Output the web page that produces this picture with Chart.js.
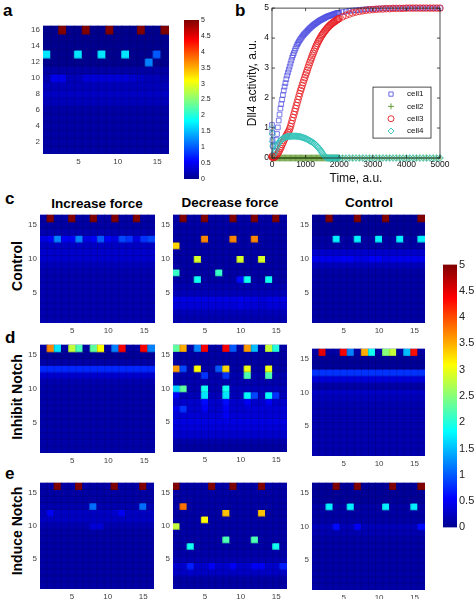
<!DOCTYPE html>
<html>
<head>
<meta charset="utf-8">
<script src="https://cdn.jsdelivr.net/npm/chart.js@4.4.1/dist/chart.umd.min.js"></script>
<style>
  body { margin: 0; background: #fff; width: 476px; height: 599px; position: relative; overflow: hidden;
         font-family: "Liberation Sans", Arial, sans-serif; }
  canvas { position: absolute; }
  .txt { position: absolute; font-weight: bold; color: #000; white-space: nowrap; line-height: 1; }
  .letter { font-size: 17px; }
  .coltitle { font-size: 13.5px; transform: translate(-50%, -50%); }
  .rowtitle { font-size: 14px; transform: translate(-50%, -50%) rotate(-90deg); }
</style>
</head>
<body>

<div class="txt letter" style="left:3px;top:2px">a</div>
<div class="txt letter" style="left:235px;top:2px">b</div>
<div class="txt letter" style="left:5px;top:190px">c</div>
<div class="txt letter" style="left:5px;top:329px">d</div>
<div class="txt letter" style="left:5px;top:465px">e</div>

<div class="txt coltitle" style="left:97px;top:204px">Increase force</div>
<div class="txt coltitle" style="left:230px;top:203px">Decrease force</div>
<div class="txt coltitle" style="left:369px;top:203px">Control</div>

<div class="txt rowtitle" style="left:17px;top:266px">Control</div>
<div class="txt rowtitle" style="left:17px;top:397px">Inhibit Notch</div>
<div class="txt rowtitle" style="left:17px;top:531px">Induce Notch</div>

<script>
/* ─── Data ───────────────────────────────────────────────────────────────── */
const colLabels = ['1','2','3','4','5','6','7','8','9','10','11','12','13','14','15','16'];
const xTicksShown = ['5', '10', '15'];
const yTicksA  = [2, 4, 6, 8, 10, 12, 14, 16];
const yTicksCE = [5, 10, 15];
const cbarTicks = [0, 0.5, 1, 1.5, 2, 2.5, 3, 3.5, 4, 4.5, 5];
const CMAX = 5;

// heatmaps: rows listed from the top (row 16) down to row 1
const heatA = [
  [0,0,5,0,0,5,0,0,5,0,0,0,5,0,0,5],
  [0,0,0,0,0,0,0,0,0,0,0,0,0,0,0,0],
  [0,0,0,0,0,0,0,0,0,0,0,0,0,0,0,0],
  [1.7,0,0,0,1.7,0,0,1.7,0,0,1.7,0,0,0,1.0,0],
  [0,0,0,0,0,0,0,0,0,0,0,0,0,1.2,0,0],
  [.1,.1,.1,.1,.1,.1,.1,.1,.1,.1,.1,.1,.1,.1,.1,.1],
  [.15,.45,.45,.2,.2,.35,.35,.35,.35,.35,.35,.3,.25,.2,.2,.15],
  [.2,.2,.2,.2,.2,.2,.2,.2,.2,.2,.2,.2,.2,.2,.2,.2],
  [.25,.25,.25,.25,.25,.25,.25,.25,.25,.25,.25,.25,.25,.25,.25,.25],
  [.2,.2,.2,.2,.2,.2,.2,.2,.2,.2,.2,.2,.2,.2,.2,.2],
  [.1,.1,.1,.1,.1,.1,.1,.1,.1,.1,.1,.1,.1,.1,.1,.1],
  [.1,.1,.1,.1,.1,.1,.1,.1,.1,.1,.1,.1,.1,.1,.1,.1],
  [.1,.1,.1,.1,.1,.1,.1,.1,.1,.1,.1,.1,.1,.1,.1,.1],
  [.1,.1,.1,.1,.1,.1,.1,.1,.1,.1,.1,.1,.1,.1,.1,.1],
  [.1,.1,.1,.1,.1,.1,.1,.1,.1,.1,.1,.1,.1,.1,.1,.1],
  [.1,.1,.1,.1,.1,.1,.1,.1,.1,.1,.1,.1,.1,.1,.1,.1],
];

const heatC1 = [
  [.1,5,.1,.1,5,.1,.1,5,.1,.1,5,.1,.1,5,.1,.1],
  [.1,.1,.1,.1,.1,.1,.1,.1,.1,.1,.1,.1,.1,.1,.1,.1],
  [.15,.15,.15,.15,.15,.15,.15,.15,.15,.15,.15,.15,.15,.15,.15,.15],
  [.4,.5,1.2,.5,.5,1.2,.4,.5,1.0,.5,.4,.9,.8,.4,.8,.9],
  [.25,.25,.25,.25,.25,.25,.25,.25,.25,.25,.25,.25,.25,.25,.25,.25],
  [.3,.3,.3,.3,.3,.3,.3,.3,.3,.3,.3,.3,.3,.3,.3,.3],
  [.3,.3,.3,.3,.3,.3,.3,.3,.3,.3,.3,.3,.3,.3,.3,.3],
  [.2,.2,.2,.2,.2,.2,.2,.2,.2,.2,.2,.2,.2,.2,.2,.2],
  [.15,.15,.15,.15,.15,.15,.15,.15,.15,.15,.15,.15,.15,.15,.15,.15],
  [.15,.15,.15,.15,.15,.15,.15,.15,.15,.15,.15,.15,.15,.15,.15,.15],
  [.15,.15,.15,.15,.15,.15,.15,.15,.15,.15,.15,.15,.15,.15,.15,.15],
  [.15,.15,.15,.15,.15,.15,.15,.15,.15,.15,.15,.15,.15,.15,.15,.15],
  [.15,.15,.15,.15,.15,.15,.15,.15,.15,.15,.15,.15,.15,.15,.15,.15],
  [.15,.15,.15,.15,.15,.15,.15,.15,.15,.15,.15,.15,.15,.15,.15,.15],
  [.15,.15,.15,.15,.15,.15,.15,.15,.15,.15,.15,.15,.15,.15,.15,.15],
  [.15,.15,.15,.15,.15,.15,.15,.15,.15,.15,.15,.15,.15,.15,.15,.15],
];

const heatC2 = [
  [.1,5,.1,.1,5,.1,.1,.1,5,.1,.1,5,.1,.1,5,.1],
  [.1,.1,.1,.1,.1,.1,.1,.1,.1,.1,.1,.1,.1,.1,.1,.1],
  [.1,.1,.1,.1,.1,.1,.1,.1,.1,.1,.1,.1,.1,.1,.1,.1],
  [.1,.1,.1,.1,3.7,.1,.1,.1,3.7,.1,.1,3.7,.1,.1,.1,.1],
  [3.3,.1,.1,.1,.1,.1,.1,.1,.1,.1,.1,.1,.1,.1,.1,.1],
  [.1,.1,.1,.1,.1,.1,.1,.1,.1,.1,.1,.1,.1,.1,.1,.1],
  [.1,.1,.1,2.9,.1,.1,.1,.1,.1,2.9,.1,.1,2.9,.1,.1,.1],
  [.1,.1,.1,.1,.1,.1,.1,.1,.1,.1,.1,.1,.1,.1,.1,.1],
  [2.1,.1,.1,.1,.1,.1,2.1,.1,.1,.1,.1,.1,.1,.1,.1,.1],
  [.1,.1,.1,1.9,.1,.1,.1,.1,.1,.6,1.9,.1,.1,1.9,.1,.1],
  [.15,.15,.15,.15,.15,.15,.15,.15,.15,.15,.15,.15,.15,.15,.15,.15],
  [.2,.2,.2,.2,.2,.2,.2,.2,.2,.2,.2,.2,.2,.2,.2,.2],
  [.4,.4,.4,.4,.4,.4,.4,.4,.4,.45,.4,.4,.35,.4,.4,.4],
  [.35,.35,.35,.35,.35,.35,.35,.35,.35,.4,.35,.35,.3,.35,.35,.35],
  [.2,.2,.2,.2,.2,.2,.2,.2,.2,.2,.2,.2,.2,.2,.2,.2],
  [.15,.15,.15,.15,.15,.15,.15,.15,.15,.15,.15,.15,.15,.15,.15,.15],
];

const heatC3 = [
  [.05,.05,5,.05,.05,.05,5,.05,.05,.05,5,.05,.05,.05,.05,5],
  [.05,.05,.05,.05,.05,.05,.05,.05,.05,.05,.05,.05,.05,.05,.05,.05],
  [.05,.05,.05,.05,.05,.05,.05,.05,.05,.05,.05,.05,.05,.05,.05,.05],
  [.1,.1,.1,1.75,.1,.1,1.75,.1,.1,1.75,.1,.1,1.75,.1,.1,1.75],
  [.1,.1,.1,.1,.1,.1,.1,.1,.1,.1,.1,.1,.1,.1,.1,.1],
  [.3,.3,.3,.3,.3,.3,.3,.3,.3,.3,.3,.3,.3,.3,.3,.3],
  [.45,.45,.45,.45,.5,.5,.4,.4,.5,.5,.4,.45,.45,.45,.45,.45],
  [.2,.2,.2,.2,.2,.2,.2,.2,.2,.2,.2,.2,.2,.2,.2,.2],
  [.1,.1,.1,.1,.1,.1,.1,.1,.1,.1,.1,.1,.1,.1,.1,.1],
  [.1,.1,.1,.1,.1,.1,.1,.1,.1,.1,.1,.1,.1,.1,.1,.1],
  [.1,.1,.1,.1,.1,.1,.1,.1,.1,.1,.1,.1,.1,.1,.1,.1],
  [.1,.1,.1,.1,.1,.1,.1,.1,.1,.1,.1,.1,.1,.1,.1,.1],
  [.1,.1,.1,.1,.1,.1,.1,.1,.1,.1,.1,.1,.1,.1,.1,.1],
  [.1,.1,.1,.1,.1,.1,.1,.1,.1,.1,.1,.1,.1,.1,.1,.1],
  [.1,.1,.1,.1,.1,.1,.1,.1,.1,.1,.1,.1,.1,.1,.1,.1],
  [.1,.1,.1,.1,.1,.1,.1,.1,.1,.1,.1,.1,.1,.1,.1,.1],
];

const heatD1 = [
  [.1,3.7,1.7,.1,2.8,2.2,.1,2.3,3.1,.1,1.2,4.4,.1,.1,4.4,1.2],
  [.05,.05,.05,.05,.05,.05,.05,.05,.05,.05,.05,.05,.05,.05,.05,.05],
  [.1,.1,.1,.1,.1,.1,.1,.1,.1,.1,.1,.1,.1,.1,.1,.1],
  [.75,.75,.75,.75,.75,.75,.75,.75,.75,.75,.75,.75,.75,.75,.75,.75],
  [.3,.3,.3,.3,.3,.3,.3,.3,.3,.3,.3,.3,.3,.3,.3,.3],
  [.15,.15,.15,.15,.15,.15,.15,.15,.15,.15,.15,.15,.15,.15,.15,.15],
  [.12,.12,.12,.12,.12,.12,.12,.12,.12,.12,.12,.12,.12,.12,.12,.12],
  [.12,.12,.12,.12,.12,.12,.12,.12,.12,.12,.12,.12,.12,.12,.12,.12],
  [.12,.12,.12,.12,.12,.12,.12,.12,.12,.12,.12,.12,.12,.12,.12,.12],
  [.12,.12,.12,.12,.12,.12,.12,.12,.12,.12,.12,.12,.12,.12,.12,.12],
  [.12,.12,.12,.12,.12,.12,.12,.12,.12,.12,.12,.12,.12,.12,.12,.12],
  [.12,.12,.12,.12,.12,.12,.12,.12,.12,.12,.12,.12,.12,.12,.12,.12],
  [.12,.12,.12,.12,.12,.12,.12,.12,.12,.12,.12,.12,.12,.12,.12,.12],
  [.12,.12,.12,.12,.12,.12,.12,.12,.12,.12,.12,.12,.12,.12,.12,.12],
  [.12,.12,.12,.12,.12,.12,.12,.12,.12,.12,.12,.12,.12,.12,.12,.12],
  [.12,.12,.12,.12,.12,.12,.12,.12,.12,.12,.12,.12,.12,.12,.12,.12],
];

const heatD2 = [
  [2.3,3.5,.1,1.2,4.4,.1,.1,4.4,1.0,.1,3.6,1.5,.1,2.8,2.0,.1],
  [.1,.1,.1,.1,.1,.1,.1,.1,.1,.1,.1,.1,.1,.1,.1,.1],
  [.1,.1,.1,.1,.1,.1,.1,.1,.1,.1,.1,.1,.1,.1,.1,.1],
  [3.6,.9,.1,3.1,.1,.1,1.0,3.3,.1,.1,3.0,.1,.1,3.0,.1,.1],
  [.15,.15,.15,.15,.8,.15,.15,.8,.15,.15,2.2,.15,.15,2.2,.15,.15],
  [.15,.15,.15,.15,.15,.15,.15,.15,.15,.15,.15,.15,.15,.15,.15,.15],
  [1.6,2.3,.15,.15,1.9,.15,.15,1.9,.2,.2,.2,.2,.2,.2,.2,.2],
  [.5,.2,.2,.2,1.7,.2,.2,1.7,.2,.2,1.8,.9,.2,1.8,.8,.2],
  [.3,.3,.3,.3,.6,.3,.3,.6,.3,.3,.5,.3,.3,.5,.3,.3],
  [.45,.8,.3,.3,.5,.3,.3,.5,.3,.3,.35,.35,.35,.35,.35,.35],
  [.35,.35,.35,.35,.35,.35,.35,.5,.35,.35,.35,.35,.35,.35,.35,.35],
  [.4,.4,.4,.4,.4,.4,.4,.4,.4,.4,.4,.4,.4,.4,.4,.4],
  [.35,.35,.35,.35,.35,.35,.35,.35,.35,.35,.35,.35,.35,.35,.35,.35],
  [.3,.3,.3,.3,.3,.3,.3,.3,.3,.3,.3,.3,.3,.3,.3,.3],
  [.12,.12,.12,.12,.12,.12,.12,.12,.12,.12,.12,.12,.12,.12,.12,.12],
  [.08,.08,.08,.08,.08,.08,.08,.08,.08,.08,.08,.08,.08,.08,.08,.08],
];

const heatD3 = [
  [.1,4.5,.1,.1,4.4,1.2,.1,3.5,1.9,.1,2.5,2.8,.1,1.5,4.3,.1],
  [.05,.05,.05,.05,.05,.05,.05,.05,.05,.05,.05,.05,.05,.05,.05,.05],
  [.05,.05,.05,.05,.05,.05,.05,.05,.05,.05,.05,.05,.05,.05,.05,.05],
  [.8,.8,.8,.8,.8,.8,.8,.8,.8,.8,.8,.8,.8,.8,.8,.8],
  [.35,.35,.35,.35,.35,.35,.35,.35,.35,.35,.35,.35,.35,.35,.35,.35],
  [.1,.1,.1,.1,.1,.1,.1,.1,.1,.1,.1,.1,.1,.1,.1,.1],
  [.25,.25,.25,.25,.25,.25,.25,.25,.25,.25,.25,.25,.25,.25,.25,.25],
  [.2,.2,.2,.2,.2,.2,.2,.2,.2,.2,.2,.2,.2,.2,.2,.2],
  [.15,.15,.15,.15,.15,.15,.15,.15,.15,.15,.15,.15,.15,.15,.15,.15],
  [.15,.15,.15,.15,.15,.15,.15,.15,.15,.15,.15,.15,.15,.15,.15,.15],
  [.15,.15,.15,.15,.15,.15,.15,.15,.15,.15,.15,.15,.15,.15,.15,.15],
  [.15,.15,.15,.15,.15,.15,.15,.15,.15,.15,.15,.15,.15,.15,.15,.15],
  [.15,.15,.15,.15,.15,.15,.15,.15,.15,.15,.15,.15,.15,.15,.15,.15],
  [.15,.15,.15,.15,.15,.15,.15,.15,.15,.15,.15,.15,.15,.15,.15,.15],
  [.15,.15,.15,.15,.15,.15,.15,.15,.15,.15,.15,.15,.15,.15,.15,.15],
  [.15,.15,.15,.15,.15,.15,.15,.15,.15,.15,.15,.15,.15,.15,.15,.15],
];

const heatE1 = [
  [.1,.1,5,.1,.1,5,.1,.1,.1,.1,5,.1,.1,.1,5,.1],
  [.1,.1,.1,.1,.1,.1,.1,.1,.1,.1,.1,.1,.1,.1,.1,.1],
  [.1,.1,.1,.1,.1,.1,.1,.1,.1,.1,.1,.1,.1,.1,.1,.1],
  [.15,.15,.15,.15,.15,.15,.15,1.1,.15,.15,.15,.15,.15,.15,1.1,.15],
  [.2,.5,.25,.25,.25,.25,.25,.25,.25,.25,.3,.5,.25,.25,.25,.25],
  [.25,.25,.25,.25,.25,.25,.25,.25,.25,.25,.25,.25,.25,.25,.25,.25],
  [.15,.15,.15,.15,.15,.15,.15,.35,.35,.15,.15,.15,.15,.15,.15,.15],
  [.1,.1,.1,.1,.1,.1,.1,.1,.1,.1,.1,.1,.1,.1,.1,.1],
  [.1,.1,.1,.1,.1,.1,.1,.1,.1,.1,.1,.1,.1,.1,.1,.1],
  [.1,.1,.1,.1,.1,.1,.1,.1,.1,.1,.1,.1,.1,.1,.1,.1],
  [.1,.1,.1,.1,.1,.1,.1,.1,.1,.1,.1,.1,.1,.1,.1,.1],
  [.1,.1,.1,.1,.1,.1,.1,.1,.1,.1,.1,.1,.1,.1,.1,.1],
  [.1,.1,.1,.1,.1,.1,.1,.1,.1,.1,.1,.1,.1,.1,.1,.1],
  [.1,.1,.1,.1,.1,.1,.1,.1,.1,.1,.1,.1,.1,.1,.1,.1],
  [.1,.1,.1,.1,.1,.1,.1,.1,.1,.1,.1,.1,.1,.1,.1,.1],
  [.1,.1,.1,.1,.1,.1,.1,.1,.1,.1,.1,.1,.1,.1,.1,.1],
];

const heatE2 = [
  [5,.1,.1,.1,.1,5,.1,.1,5,.1,.1,.1,5,.1,.1,.1],
  [.1,.1,.1,.1,.1,.1,.1,.1,.1,.1,.1,.1,.1,.1,.1,.1],
  [.1,.1,.1,.1,.1,.1,.1,.1,.1,.1,.1,.1,.1,.1,.1,.1],
  [.1,3.8,.1,.1,.1,.1,.1,.1,.1,.1,.1,.1,.1,.1,.1,.1],
  [.1,.1,.1,.1,.1,.1,.1,3.4,.1,.1,.1,.1,3.4,.1,.1,.1],
  [.1,.1,.1,.1,3.1,.1,.1,.1,.1,.1,.1,.1,.1,.1,.1,.1],
  [2.8,.1,.1,.1,.1,.1,.1,.1,.1,.1,.1,.1,.1,.1,.1,.1],
  [.1,.1,.1,.1,.1,.1,.1,.1,.1,.1,.1,.1,.1,.1,.1,.1],
  [.1,.1,.1,.1,.1,.1,.1,2.2,.1,.1,.1,2.2,.1,.1,.1,.1],
  [.1,.1,1.9,.1,.1,.1,.1,.1,.1,.1,.1,.1,.1,.1,1.9,.1],
  [.12,.12,.12,.12,.12,.12,.12,.12,.12,.12,.12,.12,.12,.12,.12,.12],
  [.15,.15,.15,.15,.15,.15,.15,.15,.15,.15,.15,.15,.15,.15,.15,.15],
  [.3,.3,.7,.3,.3,.5,.3,.3,.5,.3,.3,.5,.5,.3,.3,.7],
  [.25,.25,.3,.25,.25,.25,.25,.25,.25,.25,.25,.25,.25,.25,.25,.25],
  [.1,.1,.1,.1,.1,.1,.1,.1,.1,.1,.1,.1,.1,.1,.1,.1],
  [.1,.1,.1,.1,.1,.1,.1,.1,.1,.1,.1,.1,.1,.1,.1,.1],
];

const heatE3 = [
  [.05,.05,.05,5,.05,.05,5,.05,.05,.05,.05,5,.05,.05,.05,5],
  [.05,.05,.05,.05,.05,.05,.05,.05,.05,.05,.05,.05,.05,.05,.05,.05],
  [.05,.05,.05,.05,.05,.05,.05,.05,.05,.05,.05,.05,.05,.05,.05,.05],
  [.1,.1,1.75,.1,.1,1.75,.1,.1,.1,.1,1.75,.1,.1,.1,1.75,.1],
  [.1,.1,.1,.1,.1,.1,.1,.1,.1,.1,.1,.1,.1,.1,.1,.1],
  [.1,.1,.1,.1,.1,.1,.1,.1,.1,.1,.1,.1,.1,.1,.1,.1],
  [.2,.2,.2,.6,.2,.2,.5,.2,.2,.2,.2,.2,.2,.2,.2,.6],
  [.15,.15,.15,.15,.15,.15,.15,.15,.15,.15,.15,.15,.15,.15,.15,.15],
  [.1,.1,.1,.1,.1,.1,.1,.1,.1,.1,.1,.1,.1,.1,.1,.1],
  [.1,.1,.1,.1,.1,.1,.1,.1,.1,.1,.1,.1,.1,.1,.1,.1],
  [.1,.1,.1,.1,.1,.1,.1,.1,.1,.1,.1,.1,.1,.1,.1,.1],
  [.1,.1,.1,.1,.1,.1,.1,.1,.1,.1,.1,.1,.1,.1,.1,.1],
  [.1,.1,.1,.1,.1,.1,.1,.1,.1,.1,.1,.1,.1,.1,.1,.1],
  [.1,.1,.1,.1,.1,.1,.1,.1,.1,.1,.1,.1,.1,.1,.1,.1],
  [.1,.1,.1,.1,.1,.1,.1,.1,.1,.1,.1,.1,.1,.1,.1,.1],
  [.1,.1,.1,.1,.1,.1,.1,.1,.1,.1,.1,.1,.1,.1,.1,.1],
];

// panel b: Dll4 activity over time
const timeTicks = [0, 1000, 2000, 3000, 4000, 5000];
const dllTicks  = [0, 1, 2, 3, 4, 5];
const time = [0, 8, 16,
  25,50,75,100,125,150,175,200,225,250,275,300,325,350,375,400,425,450,475,500,
  525,550,575,600,625,650,675,700,725,750,775,800,825,850,875,900,925,950,975,1000,
  1025,1050,1075,1100,1125,1150,1175,1200,1225,1250,1275,1300,1325,1350,1375,1400,1425,1450,1475,1500,
  1525,1550,1575,1600,1625,1650,1675,1700,1725,1750,1775,1800,1825,1850,1875,1900,1925,1950,1975,2000,
  2100,2200,2300,2400,2500,2600,2700,2800,2900,3000,
  3100,3200,3300,3400,3500,3600,3700,3800,3900,4000,
  4100,4200,4300,4400,4500,4600,4700,4800,4900,5000];
const cell1 = [1.1, 0.85, 0.6,
  0.4,0.1,0.22,0.4,0.6,0.8,1.02,1.25,1.45,1.65,1.8,1.95,2.1,2.25,2.38,2.5,2.63,2.75,2.85,2.95,
  3.05,3.15,3.25,3.35,3.43,3.5,3.58,3.65,3.72,3.78,3.83,3.88,3.93,3.97,4.01,4.05,4.09,4.12,4.15,4.18,
  4.21,4.24,4.27,4.3,4.33,4.35,4.38,4.4,4.43,4.45,4.47,4.49,4.51,4.53,4.55,4.57,4.59,4.6,4.62,4.63,
  4.65,4.66,4.68,4.69,4.71,4.72,4.73,4.74,4.75,4.76,4.77,4.78,4.79,4.8,4.81,4.82,4.83,4.83,4.84,4.84,
  4.87,4.89,4.91,4.92,4.93,4.94,4.95,4.96,4.97,4.97,
  4.98,4.98,4.99,4.99,4.99,5,5,5,5,5,
  5,5,5,5,5,5,5,5,5,5];
const cell2 = [0, 0, 0,
  0,0,0,0,0,0,0,0,0,0,0,0,0,0,0,0,0,0,0,0,
  0,0,0,0,0,0,0,0,0,0,0,0,0,0,0,0,0,0,0,0,
  0,0,0,0,0,0,0,0,0,0,0,0,0,0,0,0,0,0,0,0,
  0,0,0,0,0,0,0,0,0,0,0,0,0,0,0,0,0,0,0,0,
  0,0,0,0,0,0,0,0,0,0,
  0,0,0,0,0,0,0,0,0,0,
  0,0,0,0,0,0,0,0,0,0];
const cell3 = [0.05, 0.04, 0.03,
  0.02,0.02,0.03,0.05,0.08,0.12,0.16,0.2,0.26,0.32,0.38,0.45,0.51,0.58,0.64,0.7,0.75,0.8,0.85,0.9,
  0.97,1.05,1.15,1.25,1.35,1.45,1.55,1.65,1.75,1.85,1.95,2.05,2.15,2.25,2.33,2.42,2.51,2.6,2.68,2.77,
  2.85,2.93,3.02,3.1,3.18,3.26,3.34,3.42,3.49,3.56,3.63,3.7,3.76,3.82,3.88,3.93,3.98,4.03,4.08,4.12,
  4.16,4.2,4.24,4.27,4.31,4.34,4.37,4.4,4.43,4.45,4.48,4.5,4.52,4.54,4.56,4.58,4.6,4.62,4.64,4.65,
  4.71,4.76,4.8,4.84,4.87,4.89,4.91,4.93,4.94,4.95,
  4.96,4.97,4.97,4.98,4.98,4.99,4.99,4.99,4.99,5,
  5,5,5,5,5,5,5,5,5,5];
const cell4 = [1.0, 0.8, 0.55,
  0.4,0.1,0.18,0.25,0.33,0.4,0.45,0.5,0.54,0.58,0.61,0.63,0.65,0.67,0.68,0.69,0.7,0.71,0.72,0.72,
  0.72,0.72,0.73,0.73,0.73,0.73,0.73,0.73,0.73,0.72,0.72,0.72,0.71,0.71,0.7,0.69,0.68,0.67,0.66,0.65,
  0.64,0.62,0.61,0.59,0.57,0.56,0.54,0.53,0.51,0.49,0.47,0.44,0.41,0.38,0.35,0.32,0.28,0.24,0.2,0.16,
  0.12,0.08,0.05,0.02,0.01,0,0,0,0,0,0,0,0,0,0,0,0,0,0,0,
  0,0,0,0,0,0,0,0,0,0,
  0,0,0,0,0,0,0,0,0,0,
  0,0,0,0,0,0,0,0,0,0];

/* ─── Helpers ────────────────────────────────────────────────────────────── */
Chart.defaults.font.family = '"Liberation Sans", Arial, sans-serif';
Chart.defaults.animation = false;
Chart.defaults.plugins.legend.display = false;
Chart.defaults.plugins.tooltip.enabled = false;

// MATLAB jet(64), evaluated continuously
function jetRGB(t) {
  t = Math.max(0, Math.min(1, t));
  const p = 1 + 63 * t;
  const cl = x => Math.max(0, Math.min(1, x));
  const r = cl(Math.min((p - 24) / 16, (72 - p) / 16));
  const g = cl(Math.min((p - 8) / 16, (56 - p) / 16));
  const b = cl(Math.min((p + 8) / 16, (40 - p) / 16));
  return [r, g, b].map(c => Math.round(c * 255));
}
function jet(v) {
  const [r, g, b] = jetRGB(v / CMAX);
  return `rgb(${r},${g},${b})`;
}

// canvas placed so that the plot area lands on (left, top, w, h)
function makeCanvas(left, top, w, h, m) {
  const c = document.createElement('canvas');
  c.width  = m.l + w + m.r;
  c.height = m.t + h + m.b;
  c.style.left = (left - m.l) + 'px';
  c.style.top  = (top - m.t) + 'px';
  c.style.width  = c.width + 'px';
  c.style.height = c.height + 'px';
  document.body.appendChild(c);
  return c;
}

/* ─── Heatmaps (floating bars, one dataset per row) ─────────────────────── */
// dark backing + faint cell grid, like the imagesc pixel edges
const cellGrid = {
  id: 'cellGrid',
  beforeDatasetsDraw(chart) {
    const { ctx, chartArea: a } = chart;
    ctx.save();
    ctx.fillStyle = jet(0);
    ctx.fillRect(a.left, a.top, a.right - a.left, a.bottom - a.top);
    ctx.restore();
  },
  afterDatasetsDraw(chart) {
    const { ctx, chartArea: a, scales } = chart;
    ctx.save();
    ctx.strokeStyle = 'rgba(0,0,30,0.22)';
    ctx.lineWidth = 0.7;
    ctx.beginPath();
    for (let i = 1; i < colLabels.length; i++) {
      const x = scales.x.getPixelForValue(i - 0.5);
      ctx.moveTo(x, a.top); ctx.lineTo(x, a.bottom);
    }
    for (let r = 1; r < scales.y.max - 0.5; r++) {
      const y = scales.y.getPixelForValue(r + 0.5);
      ctx.moveTo(a.left, y); ctx.lineTo(a.right, y);
    }
    ctx.stroke();
    ctx.restore();
  },
};

function heatmap(grid, yTicks, geo) {
  const margins = { l: 22, r: 6, t: 6, b: 16 };
  const canvas = makeCanvas(geo[0], geo[1], geo[2], geo[3], margins);
  const nRows = grid.length;

  new Chart(canvas, {
    type: 'bar',
    data: {
      labels: colLabels,
      datasets: grid.map((vals, i) => ({
        data: vals.map(() => [nRows - i - 0.5, nRows - i + 0.5]),
        backgroundColor: vals.map(jet),
        borderWidth: 0,
        inflateAmount: 0.6,
        grouped: false,
        categoryPercentage: 1,
        barPercentage: 1,
      })),
    },
    options: {
      responsive: false,
      layout: { padding: { top: margins.t, right: margins.r, left: 0, bottom: 0 } },
      scales: {
        x: {
          grid: { display: false, drawTicks: false },
          border: { display: false },
          ticks: {
            autoSkip: false, maxRotation: 0, padding: 3,
            color: '#444', font: { size: 8 },
            callback: (v, idx) => xTicksShown.includes(colLabels[idx]) ? colLabels[idx] : '',
          },
          afterFit: s => { s.height = margins.b; },
        },
        y: {
          min: 0.5, max: nRows + 0.5,
          grid: { display: false, drawTicks: false },
          border: { display: false },
          ticks: { color: '#444', font: { size: 8 }, padding: 3 },
          afterBuildTicks: s => { s.ticks = yTicks.map(v => ({ value: v })); },
          afterFit: s => { s.width = margins.l; },
        },
      },
    },
    plugins: [cellGrid],
  });
}

heatmap(heatA,  yTicksA,  [43, 24, 126, 130]);
heatmap(heatC1, yTicksCE, [40, 213, 115, 110]);
heatmap(heatC2, yTicksCE, [173, 213, 114, 110]);
heatmap(heatC3, yTicksCE, [312, 213, 113, 110]);
heatmap(heatD1, yTicksCE, [40, 343, 115, 110]);
heatmap(heatD2, yTicksCE, [173, 343, 114, 109]);
heatmap(heatD3, yTicksCE, [312, 347, 113, 109]);
heatmap(heatE1, yTicksCE, [40, 481, 114, 108]);
heatmap(heatE2, yTicksCE, [173, 481, 114, 108]);
heatmap(heatE3, yTicksCE, [312, 481, 113, 109]);

/* ─── Colorbars ──────────────────────────────────────────────────────────── */
function colorbar(geo, axisW, fontSize) {
  const margins = { l: 0, r: axisW, t: 8, b: 8 };
  const canvas = makeCanvas(geo[0], geo[1], geo[2], geo[3], margins);
  new Chart(canvas, {
    type: 'bar',
    data: {
      labels: ['cb'],
      datasets: [{
        data: [[0, CMAX]],
        categoryPercentage: 1,
        barPercentage: 1,
        backgroundColor: ctx => {
          const area = ctx.chart.chartArea;
          if (!area) return jet(0);
          const g = ctx.chart.ctx.createLinearGradient(0, area.bottom, 0, area.top);
          for (let i = 0; i <= 63; i++) {
            const [r, gg, b] = jetRGB(i / 63);
            g.addColorStop(i / 63, `rgb(${r},${gg},${b})`);
          }
          return g;
        },
      }],
    },
    options: {
      responsive: false,
      layout: { padding: { top: margins.t, bottom: margins.b, left: 0, right: 0 } },
      scales: {
        x: { display: false },
        y: {
          position: 'right', min: 0, max: CMAX,
          grid: { display: false, drawTicks: false },
          border: { display: false },
          ticks: { color: '#222', font: { size: fontSize }, padding: 2, callback: v => String(v) },
          afterBuildTicks: s => { s.ticks = cbarTicks.map(v => ({ value: v })); },
          afterFit: s => { s.width = axisW; },
        },
      },
    },
  });
}

colorbar([184, 20, 15, 159], 22, 7);
colorbar([443, 264, 14, 264], 22, 11);

/* ─── Panel b: time course ───────────────────────────────────────────────── */
const boxPlugin = {
  id: 'matlabBox',
  afterDraw(chart) {
    const { ctx, chartArea: a, scales } = chart;
    ctx.save();
    ctx.strokeStyle = '#222';
    ctx.lineWidth = 0.8;
    ctx.strokeRect(a.left, a.top, a.right - a.left, a.bottom - a.top);
    ctx.beginPath();
    timeTicks.forEach(v => {
      const x = scales.x.getPixelForValue(v);
      ctx.moveTo(x, a.bottom); ctx.lineTo(x, a.bottom - 3);
      ctx.moveTo(x, a.top);    ctx.lineTo(x, a.top + 3);
    });
    dllTicks.forEach(v => {
      const y = scales.y.getPixelForValue(v);
      ctx.moveTo(a.left, y);  ctx.lineTo(a.left + 3, y);
      ctx.moveTo(a.right, y); ctx.lineTo(a.right - 3, y);
    });
    ctx.stroke();

    // legend box, lower right inside the axes
    const bw = 58, bh = 51;
    const bx = a.right - 9 - bw, by = a.top + 79;
    ctx.fillStyle = '#fff';
    ctx.fillRect(bx, by, bw, bh);
    ctx.strokeRect(bx, by, bw, bh);
    ctx.font = '8px "Liberation Sans", Arial, sans-serif';
    ctx.textBaseline = 'middle';
    chart.data.datasets.forEach((ds, i) => {
      const y = by + 7 + i * 12.3;
      ctx.fillStyle = 'rgba(0,0,0,0)';
      ctx.strokeStyle = ds.borderColor;
      ctx.lineWidth = 1;
      Chart.helpers.drawPoint(ctx, {
        pointStyle: ds.pointStyle, radius: 3, borderWidth: 1, rotation: 0,
      }, bx + 18, y);
      ctx.fillStyle = '#111';
      ctx.fillText(ds.label, bx + 34, y);
    });
    ctx.restore();
  },
};

function series(label, values, color, style, order) {
  return {
    label,
    data: time.map((t, i) => ({ x: t, y: values[i] })),
    showLine: false,
    pointStyle: style,
    pointRadius: 3.3,
    pointBorderWidth: 0.9,
    borderColor: color,
    backgroundColor: 'rgba(0,0,0,0)',
    order,
  };
}

(function drawTimeCourse() {
  const margins = { l: 32, r: 36, t: 6, b: 32 };
  const canvas = makeCanvas(272, 6, 168, 152, margins);
  new Chart(canvas, {
    type: 'scatter',
    data: {
      datasets: [
        series('cell1', cell1, 'rgba(80,80,225,0.85)', 'rect', 4),
        series('cell2', cell2, 'rgba(90,150,40,0.9)', 'cross', 3),
        series('cell3', cell3, 'rgba(230,30,35,0.9)', 'circle', 2),
        series('cell4', cell4, 'rgba(50,195,185,0.9)', 'rectRot', 1),
      ],
    },
    options: {
      responsive: false,
      clip: false,
      layout: { padding: { top: margins.t, right: margins.r, left: 0, bottom: 0 } },
      scales: {
        x: {
          type: 'linear', min: 0, max: 5000,
          grid: { display: false, drawTicks: false }, border: { display: false },
          ticks: { color: '#111', font: { size: 8.5 }, padding: 2, maxRotation: 0, callback: v => String(v) },
          afterBuildTicks: s => { s.ticks = timeTicks.map(v => ({ value: v })); },
          title: { display: true, text: 'Time, a.u.', font: { size: 12 }, color: '#111',
                   padding: { top: 0, bottom: 4 } },
          afterFit: s => { s.height = margins.b; },
        },
        y: {
          min: 0, max: 5,
          grid: { display: false, drawTicks: false }, border: { display: false },
          ticks: { color: '#111', font: { size: 8.5 }, padding: 3 },
          afterBuildTicks: s => { s.ticks = dllTicks.map(v => ({ value: v })); },
          title: { display: true, text: 'Dll4 activity, a.u.', font: { size: 12 }, color: '#111',
                   padding: { top: 5, bottom: 0 } },
          afterFit: s => { s.width = margins.l; },
        },
      },
    },
    plugins: [boxPlugin],
  });
})();
</script>
</body>
</html>
